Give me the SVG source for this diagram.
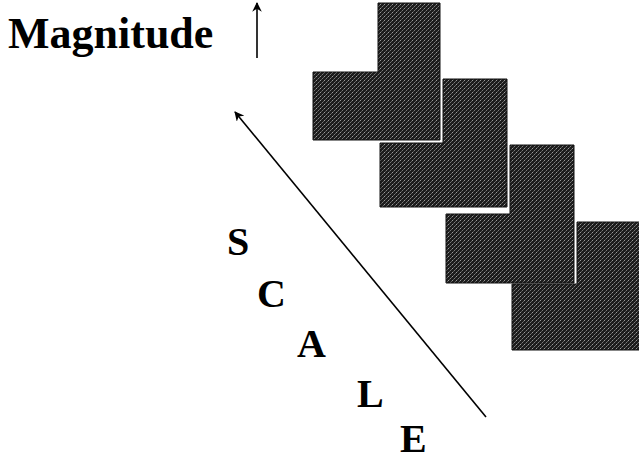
<svg xmlns="http://www.w3.org/2000/svg" width="639" height="462" viewBox="0 0 639 462">
  <defs>
    <style>
      .lbl { font-family: "Liberation Serif", "Times New Roman", serif; font-weight: bold; fill: #000; }
      .blk { fill: url(#tex); stroke: #111; stroke-width: 1; stroke-linejoin: round; }
      .conn { stroke: #000; stroke-width: 1.6; fill: none; marker-end: url(#ah); }
    </style>
    <pattern id="tex" width="4" height="4" patternUnits="userSpaceOnUse">
      <rect width="4" height="4" fill="#1c1c1c"/>
      <rect x="0" y="0" width="1" height="1" fill="#9a9a9a"/>
      <rect x="2" y="2" width="1" height="1" fill="#7a7a7a"/>
      <rect x="1" y="3" width="1" height="1" fill="#555"/>
      <rect x="3" y="1" width="1" height="1" fill="#606060"/>
    </pattern>
    <marker id="ah" viewBox="0 0 10 10" refX="9" refY="5" markerWidth="6" markerHeight="6" orient="auto" markerUnits="strokeWidth">
      <path d="M0,0 L10,5 L0,10 L3,5 Z" fill="#000"/>
    </marker>
  </defs>
  <rect width="639" height="462" fill="#fff"/>

  <g id="block1"><path class="blk" d="M313,72 H378 V3 H440 V140 H313 Z"/></g>
  <g id="block2"><path class="blk" d="M380,143 H443 V79 H507 V207 H380 Z"/></g>
  <g id="block3"><path class="blk" d="M446,214 H510 V145 H574 V283 H446 Z"/></g>
  <g id="block4"><path class="blk" d="M512,284 H577 V222 H640 V350 H512 Z"/></g>

  <g id="connectors">
    <line class="conn" x1="257" y1="58" x2="257" y2="3"/>
    <line class="conn" x1="486" y1="417" x2="235" y2="112"/>
  </g>

  <g id="labels">
    <text class="lbl" x="8" y="48" font-size="44">Magnitude</text>
    <text class="lbl" x="227" y="255" font-size="40">S</text>
    <text class="lbl" x="257" y="307" font-size="40">C</text>
    <text class="lbl" x="297" y="357" font-size="40">A</text>
    <text class="lbl" x="357" y="407" font-size="40">L</text>
    <text class="lbl" x="400" y="452" font-size="40">E</text>
  </g>
</svg>
